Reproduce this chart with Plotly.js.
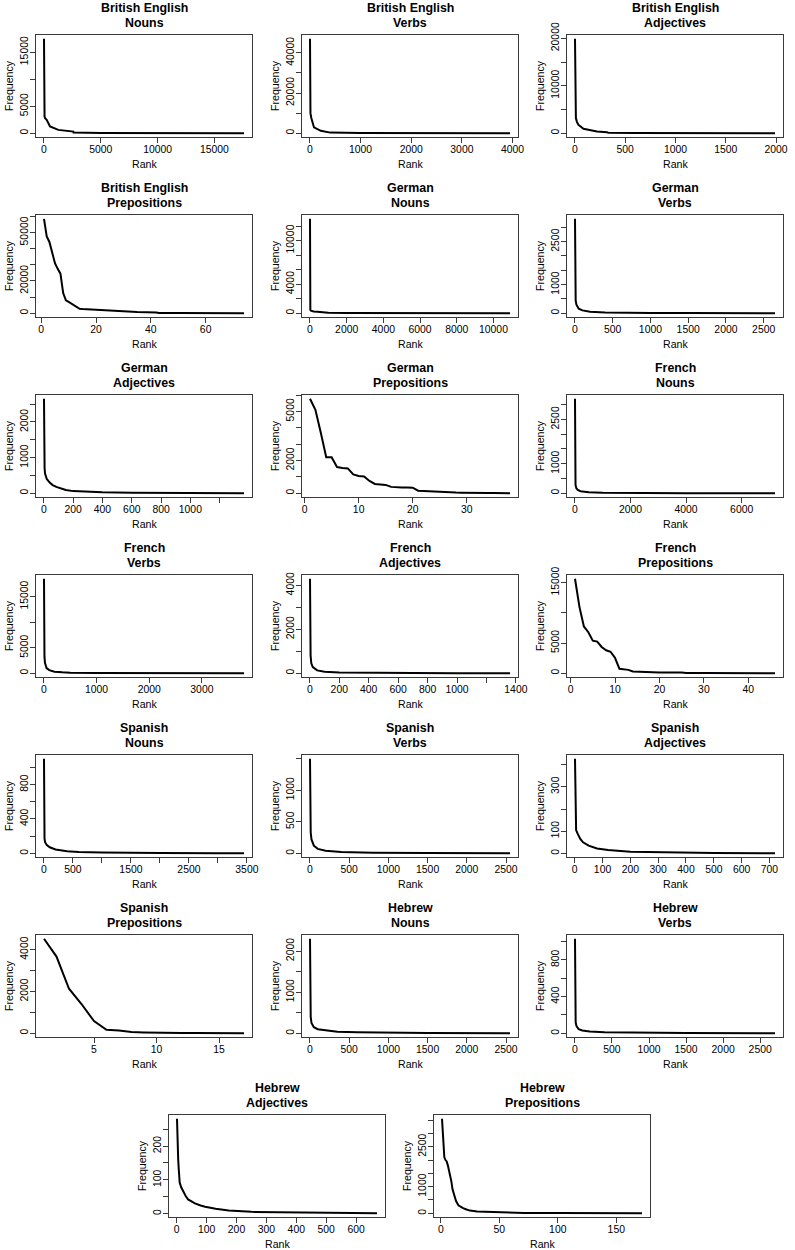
<!DOCTYPE html>
<html>
<head>
<meta charset="utf-8">
<script src="https://cdn.plot.ly/plotly-3.0.1.min.js"></script>
<style>
  body { margin: 0; background: #fff; }
  #plot { width: 795px; height: 1250px; }
</style>
</head>
<body>
<div id="plot"></div>
<script>
// panel titles (two lines each)
var languages = ["British English", "British English", "British English", "British English",
  "German", "German", "German", "German",
  "French", "French", "French", "French",
  "Spanish", "Spanish", "Spanish", "Spanish",
  "Hebrew", "Hebrew", "Hebrew", "Hebrew"];
var wordClasses = ["Nouns", "Verbs", "Adjectives", "Prepositions",
  "Nouns", "Verbs", "Adjectives", "Prepositions",
  "Nouns", "Verbs", "Adjectives", "Prepositions",
  "Nouns", "Verbs", "Adjectives", "Prepositions",
  "Nouns", "Verbs", "Adjectives", "Prepositions"];

// rank / frequency readings, one pair per panel
var rankBENouns = [1, 2, 3, 5, 10, 20, 50, 100, 235, 530, 1260, 2580, 2600, 5000, 10000, 17600];
var freqBENouns = [17500, 9000, 6500, 4500, 3500, 3300, 3100, 2800, 2500, 1250, 620, 300, 130, 60, 20, 1];
var rankBEVerbs = [1, 2, 3, 5, 10, 27, 80, 215, 380, 400, 1000, 2000, 3000, 3950];
var freqBEVerbs = [47000, 27000, 20000, 14000, 10000, 7600, 2900, 1200, 500, 300, 150, 60, 20, 1];
var rankBEAdj = [1, 2, 3, 5, 10, 20, 34, 85, 220, 320, 330, 600, 1000, 1500, 1990];
var freqBEAdj = [19900, 14000, 8000, 5000, 3200, 2400, 1800, 935, 360, 215, 100, 60, 30, 10, 1];
var rankBEPrep = [1, 2, 3, 4, 5, 6, 7, 8, 9, 10, 11, 12, 13, 14, 15, 17, 19, 22, 26, 30, 35, 42, 43, 50, 60, 74];
var freqBEPrep = [58500, 47500, 44000, 37000, 31000, 27500, 24500, 12500, 8000, 7000, 6000, 5000, 4000, 2800, 2600, 2400, 2000, 1700, 1300, 900, 700, 500, 150, 100, 60, 20];

var rankDENouns = [1, 2, 3, 5, 10, 20, 50, 100, 200, 400, 700, 1000, 2000, 4000, 7000, 10900];
var freqDENouns = [13000, 3000, 1500, 900, 600, 450, 350, 300, 250, 200, 150, 60, 30, 12, 5, 1];
var rankDEVerbs = [1, 2, 3, 5, 10, 20, 50, 100, 200, 400, 700, 1000, 1500, 2000, 2650];
var freqDEVerbs = [3300, 1700, 1100, 700, 450, 300, 160, 100, 55, 30, 15, 10, 5, 3, 1];
var rankDEAdj = [1, 2, 3, 5, 8, 12, 20, 40, 60, 85, 120, 150, 200, 290, 400, 600, 900, 1366];
var freqDEAdj = [2650, 1300, 1000, 700, 550, 480, 400, 300, 230, 180, 120, 90, 60, 40, 25, 12, 5, 1];
var rankDEPrep = [1, 2, 3, 4, 5, 6, 7, 8, 9, 10, 11, 12, 13, 14, 15, 16, 17, 18, 19, 20, 21, 22, 23, 24, 25, 26, 27, 28, 29, 30, 31, 32, 33, 34, 35, 36, 37, 38];
var freqDEPrep = [5770, 5100, 3700, 2200, 2200, 1600, 1550, 1520, 1150, 1050, 1030, 750, 570, 520, 510, 390, 360, 350, 350, 340, 160, 140, 110, 100, 95, 50, 45, 40, 35, 22, 20, 18, 15, 12, 10, 8, 5, 3];

var rankFRNouns = [1, 2, 3, 5, 10, 20, 50, 100, 200, 500, 1000, 2000, 4000, 7200];
var freqFRNouns = [3200, 1500, 1000, 650, 420, 280, 170, 110, 70, 35, 18, 8, 3, 1];
var rankFRVerbs = [1, 2, 3, 5, 10, 20, 50, 100, 200, 350, 500, 1000, 2000, 3000, 3800];
var freqFRVerbs = [18500, 11000, 8000, 5200, 3200, 2000, 1000, 600, 300, 180, 100, 40, 15, 5, 1];
var rankFRAdj = [1, 2, 3, 5, 10, 20, 50, 100, 200, 400, 700, 1000, 1360];
var freqFRAdj = [4300, 2000, 1300, 800, 450, 280, 130, 70, 35, 15, 6, 3, 1];
var rankFRPrep = [1, 2, 3, 4, 5, 6, 7, 8, 9, 10, 11, 12, 13, 14, 15, 16, 20, 25, 26, 30, 35, 40, 46];
var freqFRPrep = [15650, 11000, 7750, 6800, 5400, 5250, 4350, 3800, 3560, 2550, 730, 680, 560, 290, 270, 140, 120, 110, 40, 30, 20, 12, 5];

var rankESNouns = [1, 2, 3, 5, 10, 20, 50, 100, 200, 400, 600, 1000, 1350, 2000, 3000, 3450];
var freqESNouns = [1100, 450, 300, 220, 170, 130, 95, 70, 45, 25, 15, 10, 7, 4, 2, 1];
var rankESVerbs = [1, 2, 3, 5, 10, 20, 50, 100, 200, 400, 800, 1500, 2000, 2550];
var freqESVerbs = [1500, 1200, 700, 500, 330, 220, 120, 70, 40, 20, 8, 4, 2, 1];
var rankESAdj = [1, 2, 3, 5, 10, 20, 30, 50, 80, 120, 200, 300, 420, 500, 720];
var freqESAdj = [426, 180, 130, 105, 90, 65, 50, 35, 22, 15, 8, 5, 3, 2, 1];
var rankESPrep = [1, 2, 3, 4, 5, 6, 7, 8, 9, 10, 11, 12, 13, 14, 15, 16, 17];
var freqESPrep = [4520, 3670, 2130, 1400, 580, 170, 130, 60, 40, 20, 15, 12, 10, 8, 6, 4, 2];

var rankHENouns = [1, 2, 3, 5, 10, 20, 50, 100, 200, 350, 600, 850, 1500, 2550];
var freqHENouns = [2300, 1000, 800, 600, 400, 250, 150, 100, 70, 40, 25, 18, 8, 2];
var rankHEVerbs = [1, 2, 3, 5, 10, 20, 50, 100, 200, 400, 1000, 1500, 2700];
var freqHEVerbs = [1030, 360, 250, 180, 120, 80, 45, 30, 20, 12, 6, 3, 1];
var rankHEAdj = [1, 2, 3, 5, 7, 10, 15, 21, 30, 38, 50, 61, 80, 95, 130, 174, 250, 400, 670];
var freqHEAdj = [281, 230, 200, 160, 130, 92, 78, 66, 52, 42, 35, 30, 24, 20, 14, 9, 5, 3, 1];
var rankHEPrep = [1, 2, 3, 4, 5, 6, 7, 8, 9, 10, 11, 12, 13, 15, 17, 19, 22, 25, 31, 40, 48, 60, 71, 100, 140, 172];
var freqHEPrep = [3550, 2600, 2100, 2000, 1950, 1800, 1600, 1450, 1200, 900, 720, 600, 460, 300, 240, 190, 140, 100, 65, 50, 40, 25, 13, 8, 4, 2];

var ranks = [rankBENouns, rankBEVerbs, rankBEAdj, rankBEPrep, rankDENouns, rankDEVerbs, rankDEAdj, rankDEPrep,
  rankFRNouns, rankFRVerbs, rankFRAdj, rankFRPrep, rankESNouns, rankESVerbs, rankESAdj, rankESPrep,
  rankHENouns, rankHEVerbs, rankHEAdj, rankHEPrep];
var freqs = [freqBENouns, freqBEVerbs, freqBEAdj, freqBEPrep, freqDENouns, freqDEVerbs, freqDEAdj, freqDEPrep,
  freqFRNouns, freqFRVerbs, freqFRAdj, freqFRPrep, freqESNouns, freqESVerbs, freqESAdj, freqESPrep,
  freqHENouns, freqHEVerbs, freqHEAdj, freqHEPrep];

// tick positions and their printed labels ('' = tick without label)
var xTicks = [
  [0, 5000, 10000, 15000], [0, 1000, 2000, 3000, 4000], [0, 500, 1000, 1500, 2000], [0, 20, 40, 60],
  [0, 2000, 4000, 6000, 8000, 10000], [0, 500, 1000, 1500, 2000, 2500], [0, 200, 400, 600, 800, 1000, 1200], [0, 10, 20, 30],
  [0, 2000, 4000, 6000], [0, 1000, 2000, 3000], [0, 200, 400, 600, 800, 1000, 1200, 1400], [0, 10, 20, 30, 40],
  [0, 500, 1000, 1500, 2000, 2500, 3000, 3500], [0, 500, 1000, 1500, 2000, 2500], [0, 100, 200, 300, 400, 500, 600, 700], [5, 10, 15],
  [0, 500, 1000, 1500, 2000, 2500], [0, 500, 1000, 1500, 2000, 2500], [0, 100, 200, 300, 400, 500, 600], [0, 50, 100, 150]];
var xLabels = [
  ["0", "5000", "10000", "15000"], ["0", "1000", "2000", "3000", "4000"], ["0", "500", "1000", "1500", "2000"], ["0", "20", "40", "60"],
  ["0", "2000", "4000", "6000", "8000", "10000"], ["0", "500", "1000", "1500", "2000", "2500"], ["0", "200", "400", "600", "800", "1000", ""], ["0", "10", "20", "30"],
  ["0", "2000", "4000", "6000"], ["0", "1000", "2000", "3000"], ["0", "200", "400", "600", "800", "1000", "", "1400"], ["0", "10", "20", "30", "40"],
  ["0", "500", "", "1500", "", "2500", "", "3500"], ["0", "500", "1000", "1500", "2000", "2500"], ["0", "100", "200", "300", "400", "500", "600", "700"], ["5", "10", "15"],
  ["0", "500", "1000", "1500", "2000", "2500"], ["0", "500", "1000", "1500", "2000", "2500"], ["0", "100", "200", "300", "400", "500", "600"], ["0", "50", "100", "150"]];
var yTicks = [
  [0, 5000, 10000, 15000], [0, 10000, 20000, 30000, 40000], [0, 5000, 10000, 15000, 20000], [0, 10000, 20000, 30000, 40000, 50000, 60000],
  [0, 2000, 4000, 6000, 8000, 10000, 12000], [0, 500, 1000, 1500, 2000, 2500, 3000], [0, 500, 1000, 1500, 2000, 2500], [0, 1000, 2000, 3000, 4000, 5000, 6000],
  [0, 500, 1000, 1500, 2000, 2500, 3000], [0, 5000, 10000, 15000], [0, 1000, 2000, 3000, 4000], [0, 5000, 10000, 15000],
  [0, 200, 400, 600, 800, 1000], [0, 500, 1000, 1500], [0, 100, 200, 300, 400], [0, 1000, 2000, 3000, 4000],
  [0, 500, 1000, 1500, 2000], [0, 200, 400, 600, 800, 1000], [0, 50, 100, 150, 200, 250], [0, 500, 1000, 1500, 2000, 2500, 3000, 3500]];
var yLabels = [
  ["0", "5000", "", "15000"], ["0", "", "20000", "", "40000"], ["0", "", "10000", "", "20000"], ["0", "", "20000", "", "", "50000", ""],
  ["0", "", "4000", "", "", "10000", ""], ["0", "", "1000", "", "", "2500", ""], ["0", "", "1000", "", "2000", ""], ["0", "", "2000", "", "", "5000", ""],
  ["0", "", "1000", "", "", "2500", ""], ["0", "5000", "", "15000"], ["0", "", "2000", "", "4000"], ["0", "5000", "", "15000"],
  ["0", "", "400", "", "800", ""], ["0", "500", "1000", ""], ["0", "100", "", "300", ""], ["0", "", "2000", "", "4000"],
  ["0", "", "1000", "", "2000"], ["0", "", "400", "", "800", ""], ["0", "", "100", "", "200", ""], ["0", "", "1000", "", "", "2500", "", ""]];

// page geometry (pixels)
var W = 795, H = 1250;
var rowTops = [35, 215, 395, 575, 755, 935, 1115];
var colLefts = [36, 302, 567];
var lastRowLefts = [169, 434];
var boxW = 216, boxH = 102;

var fontFam = "Liberation Sans, Arial, sans-serif";
var traces = [];
var annotations = [];
var layout = {
  width: W, height: H,
  margin: {l: 0, r: 0, t: 0, b: 0},
  paper_bgcolor: "#fff", plot_bgcolor: "#fff",
  showlegend: false,
  font: {family: fontFam, color: "#000"}
};

// R style padding: 4% beyond the data on each side
function padRange(arr) {
  var lo = Math.min.apply(null, arr), hi = Math.max.apply(null, arr);
  var d = hi - lo;
  return [lo - 0.04 * d, hi + 0.04 * d];
}

for (var i = 0; i < 20; i++) {
  var rowIdx = Math.floor(i / 3);
  var boxLeft = i < 18 ? colLefts[i % 3] : lastRowLefts[i - 18];
  var boxTop = rowTops[rowIdx];
  var n = i === 0 ? "" : String(i + 1);

  traces.push({
    x: ranks[i], y: freqs[i],
    xaxis: "x" + n, yaxis: "y" + n,
    type: "scatter", mode: "lines",
    line: {color: "#000", width: 2},
    hoverinfo: "skip"
  });

  var common = {
    showline: true, mirror: true, linecolor: "#3a3a3a", linewidth: 1,
    ticks: "outside", ticklen: 5, tickwidth: 1, tickcolor: "#3a3a3a",
    showgrid: false, zeroline: false,
    tickmode: "array",
    tickfont: {family: fontFam, size: 10.4, color: "#000"},
    ticklabelstandoff: -2
  };

  layout["xaxis" + n] = Object.assign({}, common, {
    domain: [boxLeft / W, (boxLeft + boxW) / W],
    anchor: "y" + n,
    range: padRange(ranks[i]),
    tickvals: xTicks[i], ticktext: xLabels[i]
  });
  layout["yaxis" + n] = Object.assign({}, common, {
    domain: [1 - (boxTop + boxH) / H, 1 - boxTop / H],
    anchor: "x" + n,
    range: padRange(freqs[i]),
    tickvals: yTicks[i], ticktext: yLabels[i],
    tickangle: -90
  });

  var cx = (boxLeft + boxW / 2) / W;
  annotations.push({
    text: "<b>" + languages[i] + "</b>", xref: "paper", yref: "paper",
    x: cx, y: 1 - (boxTop - 27) / H, xanchor: "center", yanchor: "middle",
    showarrow: false, font: {family: fontFam, size: 12.4, color: "#000"}
  });
  annotations.push({
    text: "<b>" + wordClasses[i] + "</b>", xref: "paper", yref: "paper",
    x: cx, y: 1 - (boxTop - 12) / H, xanchor: "center", yanchor: "middle",
    showarrow: false, font: {family: fontFam, size: 12.4, color: "#000"}
  });
  annotations.push({
    text: "Rank", xref: "paper", yref: "paper",
    x: cx, y: 1 - (boxTop + boxH + 27) / H, xanchor: "center", yanchor: "middle",
    showarrow: false, font: {family: fontFam, size: 10.6, color: "#000"}
  });
  annotations.push({
    text: "Frequency", xref: "paper", yref: "paper", textangle: -90,
    x: (boxLeft - 27) / W, y: 1 - (boxTop + boxH / 2) / H, xanchor: "center", yanchor: "middle",
    showarrow: false, font: {family: fontFam, size: 10.6, color: "#000"}
  });
}

layout.annotations = annotations;

Plotly.newPlot("plot", traces, layout, {staticPlot: true, displayModeBar: false});
</script>
</body>
</html>
